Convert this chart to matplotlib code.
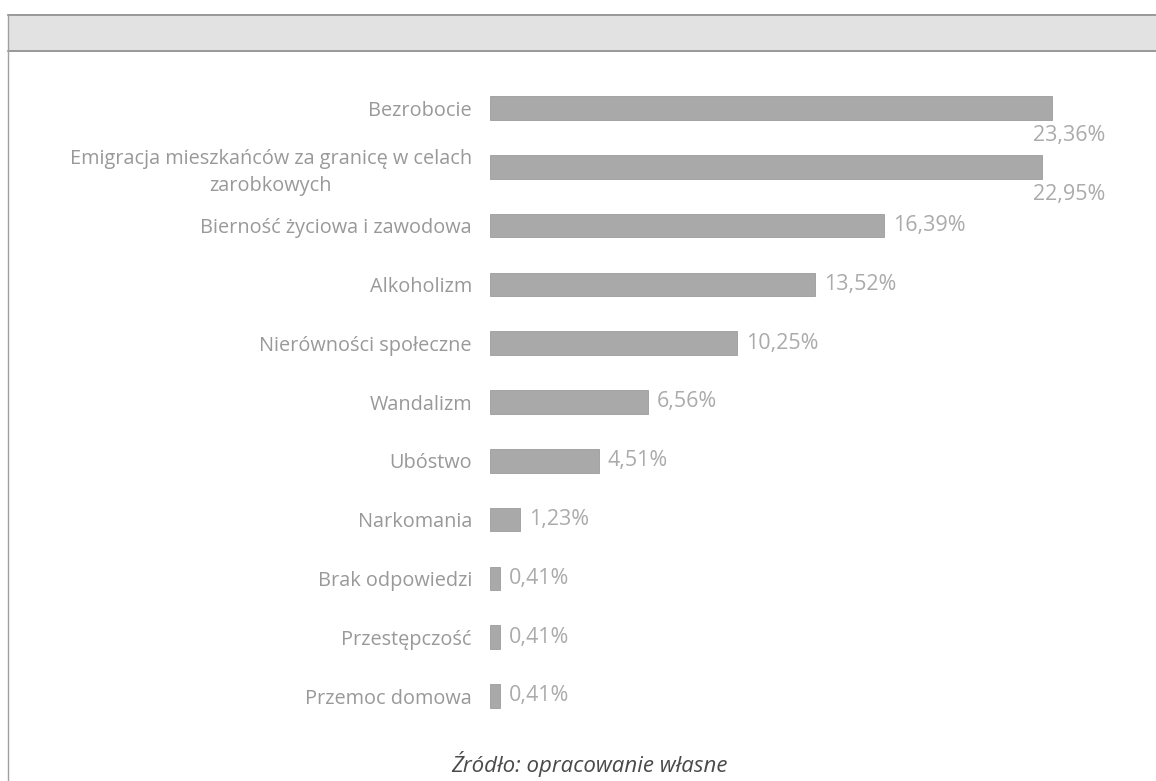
import numpy as np
import matplotlib.pyplot as plt
from matplotlib.patches import Rectangle
from matplotlib.lines import Line2D

# data (percent of answers)
categories = ["Bezrobocie",
              "Emigracja mieszkańców za granicę w celach\nzarobkowych",
              "Bierność życiowa i zawodowa",
              "Alkoholizm",
              "Nierówności społeczne",
              "Wandalizm",
              "Ubóstwo",
              "Narkomania",
              "Brak odpowiedzi",
              "Przestępczość",
              "Przemoc domowa"]
values = [23.36, 22.95, 16.39, 13.52, 10.25, 6.56, 4.51, 1.23, 0.41, 0.41, 0.41]
value_labels = ["23,36%", "22,95%", "16,39%", "13,52%", "10,25%", "6,56%",
                "4,51%", "1,23%", "0,41%", "0,41%", "0,41%"]
source_text = "Źródło: opracowanie własne"

W, H = 1156, 781
fig = plt.figure(figsize=(W/100, H/100), dpi=100)
plt.rcParams['font.family'] = ['Open Sans', 'DejaVu Sans']

# axes placed in pixel terms (x=0 at 490px, ~24 px per percent)
px_per_unit = 24.06
xmax = 25.0
y_top, y_bot = 78.6, 725.4
ax = fig.add_axes([490/W, 1 - y_bot/H, xmax*px_per_unit/W, (y_bot - y_top)/H])

pos = np.arange(len(categories))
ax.barh(pos, values, height=0.4, color="#a9a9a9", edgecolor="#9c9c9c", linewidth=0.6)
ax.set_xlim(0, xmax)
ax.set_ylim(len(categories) - 0.5, -0.5)
ax.set_yticks(pos)
ax.set_yticklabels(categories, fontsize=14.3, color="#999999")
for lab in ax.get_yticklabels():
    lab.set_multialignment("center")
    lab.set_linespacing(1.45)
ax.tick_params(axis="y", length=0, pad=13)
ax.set_xticks([])
for s in ax.spines.values():
    s.set_visible(False)

# value labels; the two longest are pushed under the bar end
for i, (v, t) in enumerate(zip(values, value_labels)):
    if v > 20:
        ax.text(max(values) - 0.8, i + 0.47, t, ha="left", va="center",
                fontsize=15.5, color="#ababab", clip_on=False)
    else:
        ax.text(v + 0.38, i, t, ha="left", va="center", fontsize=15.5, color="#ababab")

# header band and frame
fig.patches.append(Rectangle((8/W, 1 - 52/H), (W - 8)/W, 38/H, transform=fig.transFigure,
                             facecolor="#e2e2e2", edgecolor="none"))
fig.lines.append(Line2D([8/W, 1], [1 - 15/H, 1 - 15/H], transform=fig.transFigure, color="#8c8c8c", lw=1.2))
fig.lines.append(Line2D([8/W, 1], [1 - 51/H, 1 - 51/H], transform=fig.transFigure, color="#8c8c8c", lw=1.2))
fig.lines.append(Line2D([8/W, 8/W], [0, 1 - 15/H], transform=fig.transFigure, color="#a0a0a0", lw=1))

fig.text(589/W, 1 - 764/H, source_text, ha="center", va="center", fontsize=16,
         style="italic", color="#4a4a4a")

fig.savefig("out.png", dpi=100)
